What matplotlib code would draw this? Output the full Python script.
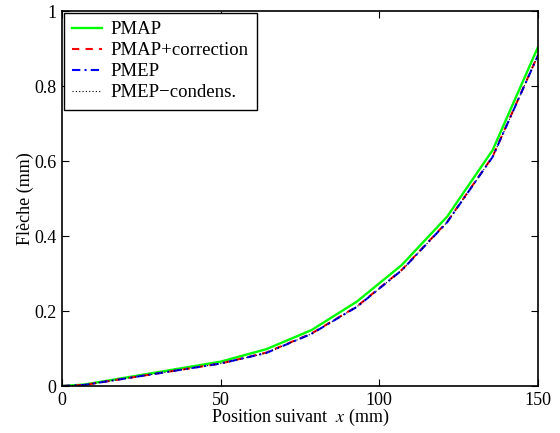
import matplotlib
matplotlib.use("Agg")
import matplotlib.pyplot as plt

# positions le long de la poutre (mm)
position = [0, 7.1, 50, 64.3, 78.6, 92.9, 107.1, 121.4, 135.7, 150]
pmap = [0, 0.004, 0.065, 0.098, 0.149, 0.225, 0.323, 0.452, 0.629, 0.904]
pmap_corr = [0, 0.003, 0.060, 0.089, 0.140, 0.212, 0.310, 0.438, 0.612, 0.883]
pmep = [0, 0.003, 0.060, 0.088, 0.139, 0.211, 0.309, 0.437, 0.611, 0.882]
pmep_cond = [0, 0.003, 0.060, 0.088, 0.139, 0.211, 0.309, 0.437, 0.611, 0.882]

plt.rcParams['font.family'] = ['Liberation Serif', 'DejaVu Serif']
plt.rcParams['mathtext.fontset'] = 'stix'
plt.rcParams['font.size'] = 11

fig = plt.figure(figsize=(5.6, 4.33), dpi=100)
ax = fig.add_axes([0.1107, 0.1085, 0.85, 0.866])

ax.plot(position, pmap, color='#00ff00', lw=1.7, label='PMAP')
ax.plot(position, pmap_corr, color='red', lw=1.5, ls=(0, (3.5, 3)), label='PMAP+correction')
ax.plot(position, pmep, color='blue', lw=1.5, ls=(0, (4, 2, 1, 2)), label='PMEP')
ax.plot(position, pmep_cond, color='black', lw=0.8, ls=(0, (1, 2)), label='PMEP\u2212condens.')

ax.set_xlim(0, 150)
ax.set_ylim(0, 1)
ax.set_xticks([0, 50, 100, 150])
ax.set_yticks([0, 0.2, 0.4, 0.6, 0.8, 1])
ax.set_yticklabels(['0', '0.2', '0.4', '0.6', '0.8', '1'])
ax.tick_params(direction='in', top=True, right=True, length=5, labelsize=13, pad=4)
for s in ax.spines.values():
    s.set_linewidth(1.2)

ax.set_xlabel('Position suivant  $x$ (mm)', fontsize=13, labelpad=-1)
ax.set_ylabel('Fl\u00e8che (mm)', fontsize=13, labelpad=0)

leg = ax.legend(loc='upper left', fontsize=13.5, fancybox=False, edgecolor='black',
                framealpha=1, borderaxespad=0.1, handlelength=1.6, handletextpad=0.45,
                labelspacing=0.2, borderpad=0.45)
leg.get_frame().set_linewidth(1.0)

fig.savefig('out.png', dpi=100)
